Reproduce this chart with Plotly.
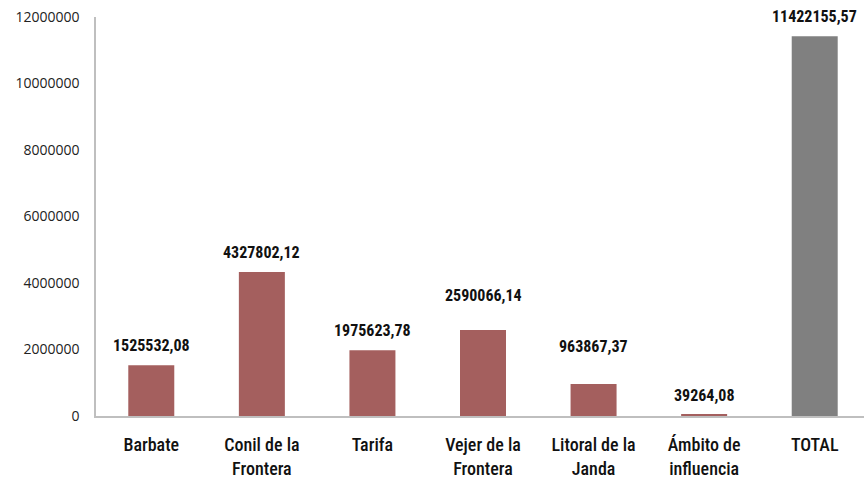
import plotly.graph_objects as go

categories = ["Barbate", "Conil de la<br>Frontera", "Tarifa", "Vejer de la<br>Frontera",
              "Litoral de la<br>Janda", "Ámbito de<br>influencia", "TOTAL"]
values = [1525532.08, 4327802.12, 1975623.78, 2590066.14, 963867.37, 39264.08, 11422155.57]
labels = ["1525532,08", "4327802,12", "1975623,78", "2590066,14", "963867,37", "39264,08", "11422155,57"]
tick_vals = [0, 2000000, 4000000, 6000000, 8000000, 10000000, 12000000]
tick_text = ["0", "2000000", "4000000", "6000000", "8000000", "10000000", "12000000"]
label_extra = [0, 0, 0, 15, 18, 0, 0]

colors = ["#A45F5E"] * 6 + ["#808080"]
NARROW = "Liberation Sans Narrow, Arial Narrow, Roboto Condensed, Liberation Sans"

fig = go.Figure(go.Bar(x=categories, y=values, marker_color=colors, marker_line_width=0, width=0.416,
                       hoverinfo="skip"))

lab_font = dict(family=NARROW, size=16, color="#111111", weight="bold")
for c, v, t, e in zip(categories, values, labels, label_extra):
    fig.add_annotation(x=c, y=v, text=t, showarrow=False, yanchor="bottom",
                       yshift=8 + e, font=lab_font)

fig.update_layout(
    width=870, height=480,
    margin=dict(l=96, r=0, t=17, b=64),
    plot_bgcolor="white", paper_bgcolor="white",
    showlegend=False,
)
fig.update_xaxes(showline=True, linecolor="#BFBFBF", linewidth=1.5, ticks="",
                 tickfont=dict(family=NARROW, size=18, color="#111111", weight=500),
                 ticklabelstandoff=12, automargin=False)
fig.update_yaxes(range=[0, 12000000], tickvals=tick_vals, ticktext=tick_text, showgrid=False,
                 showline=True, linecolor="#BFBFBF", linewidth=1.5, zeroline=False, ticks="",
                 tickfont=dict(family="Open Sans, Noto Sans", size=14, color="#222222"),
                 ticklabelstandoff=12, automargin=False)
fig.write_html("out.html", config={"displayModeBar": False},
               post_script="document.body.style.margin='0';document.body.style.overflow='hidden';")
